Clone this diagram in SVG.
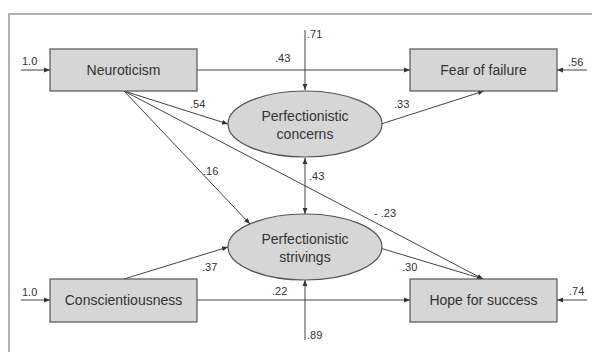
<svg xmlns="http://www.w3.org/2000/svg" width="592" height="352" viewBox="0 0 592 352">
<defs>
<style>
.box{fill:#d6d6d6;stroke:#555;stroke-width:1.2}
.t{font-family:"Liberation Sans",Arial,sans-serif;font-size:14px;fill:#333;text-anchor:middle}
.l{font-family:"Liberation Sans",Arial,sans-serif;font-size:11px;fill:#333}
.c{stroke:#444;stroke-width:1;fill:none}
.frame{stroke:#999;stroke-width:1.5;fill:none}
</style>
<marker id="a" viewBox="0 0 10 10" refX="10" refY="5" markerWidth="6" markerHeight="6" orient="auto-start-reverse" markerUnits="userSpaceOnUse">
<path d="M0,1 L10,5 L0,9 z" fill="#333"/>
</marker>
</defs>
<rect width="592" height="352" fill="#fff"/>
<path class="frame" d="M9,352 V14 H592"/>
<g id="connectors">
<line class="c" x1="21" y1="70" x2="50" y2="70" marker-end="url(#a)"/>
<line class="c" x1="587" y1="70" x2="557" y2="70" marker-end="url(#a)"/>
<line class="c" x1="21" y1="300" x2="50" y2="300" marker-end="url(#a)"/>
<line class="c" x1="587" y1="300" x2="557" y2="300" marker-end="url(#a)"/>
<line class="c" x1="197" y1="70" x2="410" y2="70" marker-end="url(#a)"/>
<line class="c" x1="197" y1="300" x2="410" y2="300" marker-end="url(#a)"/>
<line class="c" x1="305" y1="30" x2="305" y2="90" marker-end="url(#a)"/>
<line class="c" x1="305" y1="340" x2="305" y2="280" marker-end="url(#a)"/>
<line class="c" x1="305" y1="158" x2="305" y2="214" marker-start="url(#a)" marker-end="url(#a)"/>
<line class="c" x1="124" y1="91" x2="228" y2="124" marker-end="url(#a)"/>
<line class="c" x1="124" y1="91" x2="250" y2="224" marker-end="url(#a)"/>
<line class="c" x1="124" y1="91" x2="483" y2="279" marker-end="url(#a)"/>
<line class="c" x1="380" y1="248" x2="483" y2="279" marker-end="url(#a)"/>
<line class="c" x1="124" y1="279" x2="228" y2="247" marker-end="url(#a)"/>
<line class="c" x1="381" y1="124" x2="484" y2="91" marker-end="url(#a)"/>
<text class="l" x="22" y="65">1.0</text>
<text class="l" x="568" y="66">.56</text>
<text class="l" x="22" y="296">1.0</text>
<text class="l" x="569" y="295">.74</text>
<text class="l" x="275" y="62">.43</text>
<text class="l" x="272" y="295">.22</text>
<text class="l" x="307" y="38">.71</text>
<text class="l" x="307" y="339">.89</text>
<text class="l" x="309" y="180">.43</text>
<text class="l" x="190" y="108">.54</text>
<text class="l" x="203" y="175">.16</text>
<text class="l" x="374" y="217">- .23</text>
<text class="l" x="402" y="271">.30</text>
<text class="l" x="202" y="271">.37</text>
<text class="l" x="394" y="108">.33</text>
</g>
<g id="neuroticism">
<rect class="box" x="50" y="49" width="147" height="42"/>
<text class="t" x="123.5" y="75">Neuroticism</text>
</g>
<g id="fear">
<rect class="box" x="410" y="49" width="147" height="42"/>
<text class="t" x="483.5" y="75">Fear of failure</text>
</g>
<g id="conscientiousness">
<rect class="box" x="50" y="279" width="147" height="43"/>
<text class="t" x="123.5" y="305">Conscientiousness</text>
</g>
<g id="hope">
<rect class="box" x="410" y="279" width="147" height="43"/>
<text class="t" x="483.5" y="305">Hope for success</text>
</g>
<g id="concerns">
<ellipse class="box" cx="305" cy="124" rx="77" ry="33"/>
<text class="t" x="305" y="121">Perfectionistic</text>
<text class="t" x="305" y="139">concerns</text>
</g>
<g id="strivings">
<ellipse class="box" cx="305" cy="247" rx="77" ry="33"/>
<text class="t" x="305" y="244">Perfectionistic</text>
<text class="t" x="305" y="262">strivings</text>
</g>
</svg>
